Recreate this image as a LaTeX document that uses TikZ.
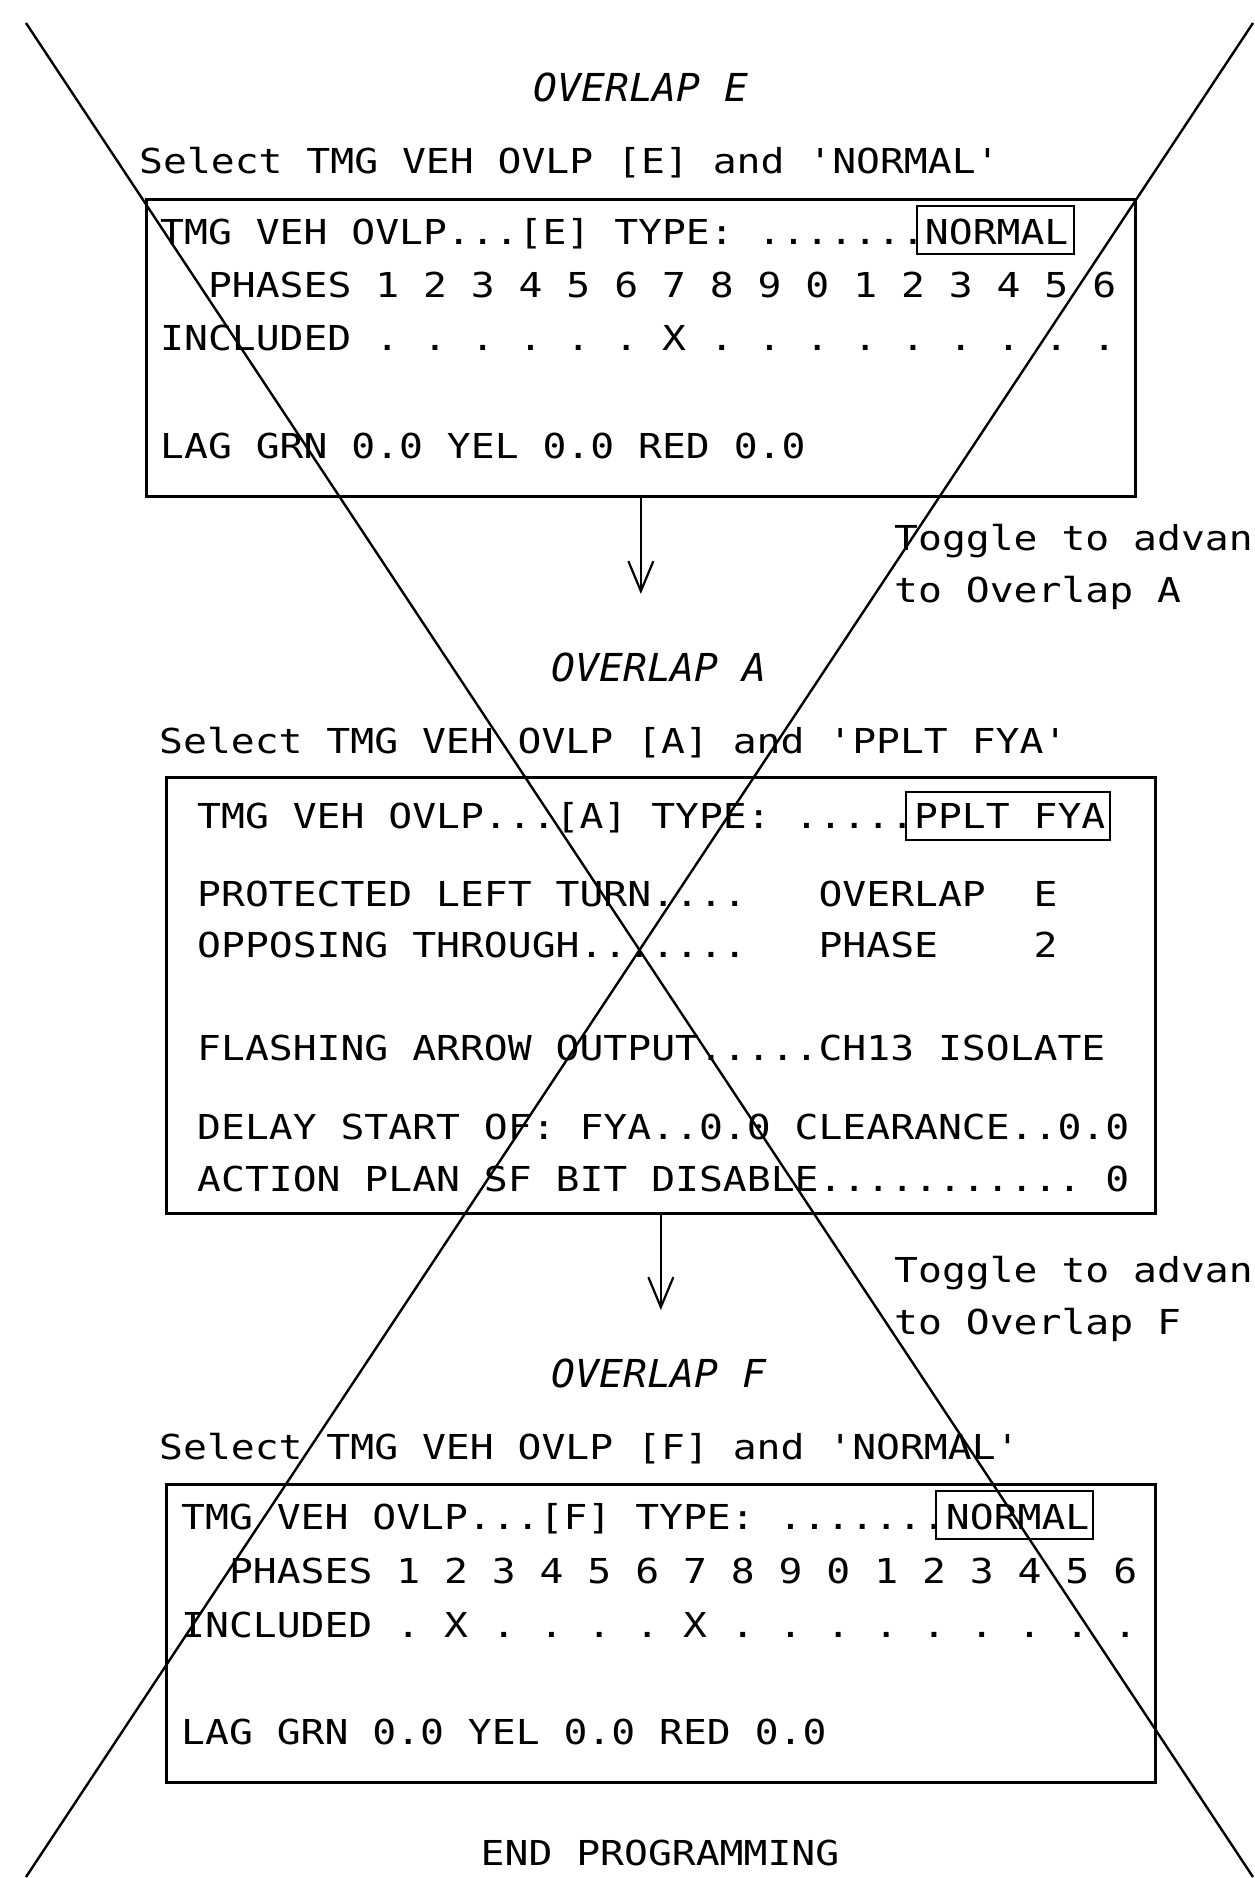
\documentclass[tikz,border=0pt]{standalone}
\usepackage{fontspec}
\usepackage{graphicx}
\usetikzlibrary{arrows.meta}
\newfontfamily\cad{DejaVu Sans Mono}
\newcommand\ctxt[1]{\scalebox{1}[0.865]{\cad\fontsize{39.7pt}{42pt}\selectfont\frenchspacing #1}}
\newcommand\ttl[1]{\scalebox{1}[0.97]{\cad\itshape\fontsize{39.7pt}{42pt}\selectfont\frenchspacing #1}}
\begin{document}
\begin{tikzpicture}[x=1pt,y=-1pt,
  txt/.style={anchor=base west, inner sep=0pt},
  ttlnode/.style={anchor=base, inner sep=0pt},
  panel/.style={draw, line width=2.7pt, inner sep=0pt, anchor=north west},
  hl/.style={draw, line width=2.4pt},
  arr/.style={line width=2.2pt, -{Straight Barb[length=30pt,width=25pt,line width=2.2pt]}},
  cross/.style={line width=2.4pt}]
\useasboundingbox (0,0) rectangle (1254,1878);

% ---------- Overlap E ----------
\node[ttlnode] (tE) at (641,102) {\ttl{OVERLAP E}};
\node[txt] (sE) at (139,174) {\ctxt{Select TMG VEH OVLP [E] and 'NORMAL'}};
\node[panel, minimum width=989pt, minimum height=297pt] (box1) at (145,198) {};
\node[txt] (e1) at (160,245) {\ctxt{TMG VEH OVLP...[E] TYPE: .......NORMAL}};
\draw[hl] (917,206) rectangle (1074,254);
\node[txt] (e2) at (160,297) {\ctxt{\ \ PHASES 1 2 3 4 5 6 7 8 9 0 1 2 3 4 5 6}};
\node[txt] (e3) at (160,350) {\ctxt{INCLUDED . . . . . . X . . . . . . . . .}};
\node[txt] (e4) at (160,458) {\ctxt{LAG GRN 0.0 YEL 0.0 RED 0.0}};

\coordinate (t1) at (640,594);
\draw[arr] (box1.south) -- (box1.south |- t1);
\node[txt] (g1a) at (894,550) {\ctxt{Toggle to advan}};
\node[txt] (g1b) at (894,602) {\ctxt{to Overlap A}};

% ---------- Overlap A ----------
\node[ttlnode] (tA) at (659,681) {\ttl{OVERLAP A}};
\node[txt] (sA) at (159,753) {\ctxt{Select TMG VEH OVLP [A] and 'PPLT FYA'}};
\node[panel, minimum width=989pt, minimum height=436pt] (box2) at (165,776) {};
\node[txt] (a1) at (197,828) {\ctxt{TMG VEH OVLP...[A] TYPE: .....PPLT FYA}};
\draw[hl] (906,792) rectangle (1110,840);
\node[txt] (a2) at (197,906) {\ctxt{PROTECTED LEFT TURN....\ \ \ OVERLAP\ \ E}};
\node[txt] (a3) at (197,957) {\ctxt{OPPOSING THROUGH.......\ \ \ PHASE\ \ \ \ 2}};
\node[txt] (a4) at (197,1060) {\ctxt{FLASHING ARROW OUTPUT.....CH13 ISOLATE}};
\node[txt] (a5) at (197,1139) {\ctxt{DELAY START OF: FYA..0.0 CLEARANCE..0.0}};
\node[txt] (a6) at (197,1191) {\ctxt{ACTION PLAN SF BIT DISABLE........... 0}};

\coordinate (t2) at (660,1310);
\draw[arr] (box2.south) -- (box2.south |- t2);
\node[txt] (g2a) at (894,1282) {\ctxt{Toggle to advan}};
\node[txt] (g2b) at (894,1334) {\ctxt{to Overlap F}};

% ---------- Overlap F ----------
\node[ttlnode] (tF) at (659,1387) {\ttl{OVERLAP F}};
\node[txt] (sF) at (159,1459) {\ctxt{Select TMG VEH OVLP [F] and 'NORMAL'}};
\node[panel, minimum width=989pt, minimum height=298pt] (box3) at (165,1483) {};
\node[txt] (f1) at (181,1529) {\ctxt{TMG VEH OVLP...[F] TYPE: .......NORMAL}};
\draw[hl] (936,1491) rectangle (1093,1539);
\node[txt] (f2) at (181,1583) {\ctxt{\ \ PHASES 1 2 3 4 5 6 7 8 9 0 1 2 3 4 5 6}};
\node[txt] (f3) at (181,1637) {\ctxt{INCLUDED . X . . . . X . . . . . . . . .}};
\node[txt] (f4) at (181,1744) {\ctxt{LAG GRN 0.0 YEL 0.0 RED 0.0}};

\node[ttlnode] (endp) at (660,1865) {\ctxt{END PROGRAMMING}};

% ---------- big cross ----------
\coordinate (xtl) at (26,23);
\coordinate (xtr) at (1253,23);
\coordinate (xbl) at (26,1877);
\coordinate (xbr) at (1253,1877);
\draw[cross] (xtl) -- (xbr);
\draw[cross] (xtr) -- (xbl);
\end{tikzpicture}
\end{document}
